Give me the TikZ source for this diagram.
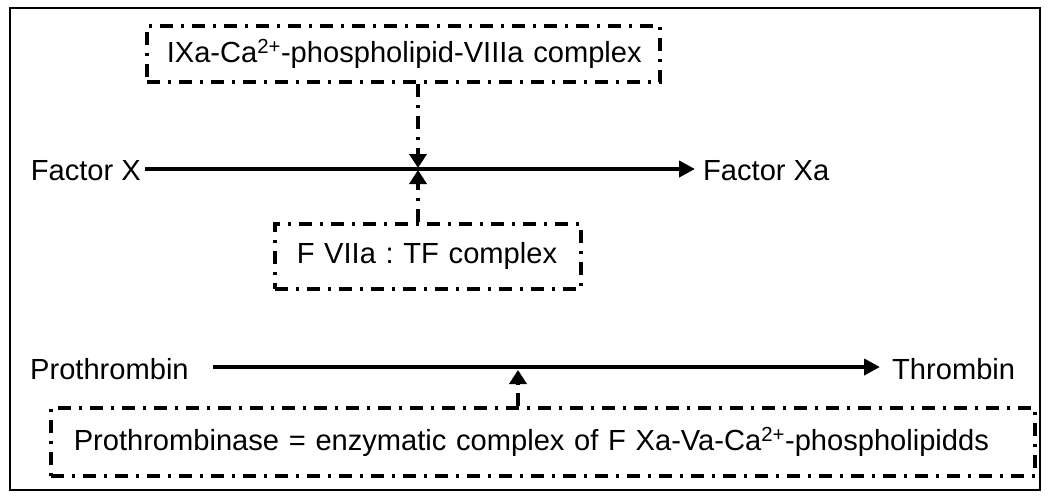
\documentclass[tikz,border=0pt]{standalone}
\usepackage{fontspec}
\setmainfont{Liberation Sans}
\usetikzlibrary{arrows.meta}
\begin{document}
\frenchspacing
\begin{tikzpicture}[x=1pt,y=-1pt,
  every node/.style={font=\fontsize{29.1}{34}\selectfont, inner sep=0pt},
  dashbox/.style={draw, line width=3.5pt, dash pattern=on 13pt off 8pt on 3pt off 8pt, align=left},
  dashline/.style={line width=3.5pt, dash pattern=on 13pt off 8pt on 3pt off 8pt},
  solidtip/.style={line width=3.5pt, -{Triangle[width=17pt,length=14pt]}},
  mainarrow/.style={line width=4pt, -{Triangle[width=16pt,length=16pt]}},
  lbl/.style={}]
\useasboundingbox (0,0) rectangle (1050,498);
\draw[line width=2pt] (10,8) rectangle (1040,490);
% top box
\node[dashbox, anchor=north west, text width=473pt, inner xsep=20pt, minimum height=56pt] (ixa) at (145,24) {\mbox{IXa-Ca\textsuperscript{2+}-phospholipid-VIIIa complex}};
% F VIIa box
\node[dashbox, anchor=north west, text width=262pt, inner xsep=22pt, minimum height=65pt] (f7) at (273,222) {\mbox{F VIIa : TF complex}};
% bottom box
\node[dashbox, anchor=north west, text width=938pt, inner xsep=23pt, minimum height=68pt] (ptase) at (49,406) {\mbox{Prothrombinase = enzymatic complex of F Xa-Va-Ca\textsuperscript{2+}-phospholipidds}};
% labels
\node[lbl, anchor=east, inner xsep=4pt] (fx) at (145,171) {Factor X};
\node[lbl, anchor=west, inner xsep=8pt] (fxa) at (695,171) {Factor Xa};
\node[lbl, anchor=west] (pro) at (30,369) {Prothrombin};
\node[lbl, anchor=west, inner xsep=12pt] (thr) at (880,369) {Thrombin};
% junctions
\coordinate (j1) at (418,169);
\coordinate (j2) at (518,367);
% main arrows
\draw[mainarrow] (fx.east |- j1) -- (fxa.west |- j1);
\draw[mainarrow, shorten <=24pt] (pro.east |- j2) -- (thr.west |- j2);
% connectors
\draw[dashline, shorten >=14pt] (ixa.south -| j1) -- ([yshift=1pt]j1);
\draw[solidtip] ([yshift=16pt]j1) -- ([yshift=1pt]j1);
\draw[dashline, shorten >=14pt] (f7.north -| j1) -- ([yshift=-1pt]j1);
\draw[solidtip] ([yshift=-16pt]j1) -- ([yshift=-1pt]j1);
\draw[dashline, shorten >=14pt] (ptase.north -| j2) -- ([yshift=-3pt]j2);
\draw[solidtip] ([yshift=-18pt]j2) -- ([yshift=-3pt]j2);
\end{tikzpicture}
\end{document}
